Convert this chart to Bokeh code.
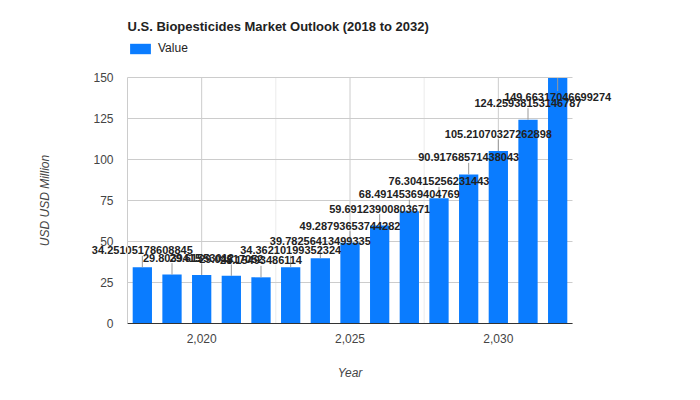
from bokeh.plotting import figure
from bokeh.models import (ColumnDataSource, Label, NumeralTickFormatter, FixedTicker,
                          Range1d, Legend, LegendItem)
from bokeh.embed import file_html
from bokeh.resources import INLINE
from bokeh.core.properties import value

# ---- data ----
years = [2018, 2019, 2020, 2021, 2022, 2023, 2024, 2025, 2026, 2027, 2028, 2029, 2030, 2031, 2032]
market_values = [34.25105178608845, 29.80394150, 29.61553012, 29.04517052, 28.15493486114,
                 34.36210199352324, 39.78256413499335, 49.28793653744282, 59.69123900803671,
                 68.49145369404769, 76.30415256231443, 90.91768571438042, 105.21070327262898,
                 124.25938153146786, 149.66317046699274]
x_ticks = [2020, 2025, 2030]
y_ticks = [0, 25, 50, 75, 100, 125, 150]
title_text = "U.S. Biopesticides Market Outlook (2018 to 2032)"
series_name = "Value"
x_title = "Year"
y_title = "USD USD Million"

# ---- layout / style ----
FONT = "Liberation Sans"
BAR = "#0a7cff"
W, H = 692, 392                 # whole canvas = plot frame
PL, PR, PT, PB = 127, 572, 77, 323   # chart area (pixels) inside the canvas
X_MIN, X_MAX = 2017.5, 2032.5
Y_MIN, Y_MAX = 0, 150

ppx = (PR - PL) / (X_MAX - X_MIN)
ppu = (PB - PT) / (Y_MAX - Y_MIN)
x_start = X_MIN - PL / ppx
x_end = X_MAX + (W - PR) / ppx
y_start = Y_MIN - (H - PB) / ppu
y_end = Y_MAX + PT / ppu

# label placement (annotations with stems, kept inside the chart area)
lab_y, st0, st1 = [], [], []
for v in market_values:
    if v + (17 + 6) / ppu > Y_MAX:
        lab_y.append(v - 19 / ppu)
        st0.append(v)
        st1.append(v - 13 / ppu)
    else:
        lab_y.append(v + 17 / ppu)
        st0.append(v)
        st1.append(v + 11.5 / ppu)

src = ColumnDataSource(dict(x=years, top=market_values, ly=lab_y, s0=st0, s1=st1,
                            txt=[repr(v) for v in market_values]))

p = figure(width=W, height=H, min_border=0,
           x_range=Range1d(x_start, x_end), y_range=Range1d(y_start, y_end),
           output_backend="svg", toolbar_location=None, background_fill_color="white",
           border_fill_color="white")
p.outline_line_color = None
p.xgrid.visible = False
p.ygrid.visible = False

# grid lines (limited to the chart area)
minor_x = [X_MIN] + [(a + b) / 2 for a, b in zip(x_ticks[:-1], x_ticks[1:])] + [X_MAX]
p.segment(x0=minor_x[1:-1], y0=[Y_MIN] * (len(minor_x) - 2), x1=minor_x[1:-1],
          y1=[Y_MAX] * (len(minor_x) - 2), line_color="#ebebeb", line_width=1)
p.segment(x0=x_ticks, y0=[Y_MIN] * len(x_ticks), x1=x_ticks, y1=[Y_MAX] * len(x_ticks),
          line_color="#cccccc", line_width=1)
p.segment(x0=[X_MIN] * len(y_ticks), y0=y_ticks, x1=[X_MAX] * len(y_ticks), y1=y_ticks,
          line_color="#cccccc", line_width=1)

bars = p.vbar(x="x", top="top", width=0.65, source=src, fill_color=BAR, line_color=None)
p.segment(x0="x", y0="s0", x1="x", y1="s1", source=src, line_color="#999999", line_width=1)
p.text(x="x", y="ly", text="txt", source=src, text_align="center", text_baseline="middle",
       text_font=value(FONT), text_font_size="11px", text_font_style="bold", text_color="#222222")

# axes, fixed inside the canvas
p.xaxis.fixed_location = Y_MIN
p.yaxis.fixed_location = X_MIN
p.xaxis.bounds = (X_MIN, X_MAX)
p.yaxis.bounds = (Y_MIN, Y_MAX)
p.xaxis.ticker = FixedTicker(ticks=x_ticks)
p.xaxis.formatter = NumeralTickFormatter(format="0,0")
p.yaxis.ticker = FixedTicker(ticks=y_ticks)
for ax in (p.xaxis, p.yaxis):
    ax.major_tick_line_color = None
    ax.minor_tick_line_color = None
    ax.major_label_text_font = FONT
    ax.major_label_text_font_size = "12px"
    ax.major_label_text_color = "#444444"
    ax.axis_label_text_font = FONT
    ax.axis_label_text_font_size = "12px"
    ax.axis_label_text_font_style = "italic"
    ax.axis_label_text_color = "#444444"
p.xaxis.axis_line_color = "#333333"
p.yaxis.axis_line_color = "#cccccc"
p.xaxis.axis_label = x_title
p.yaxis.axis_label = y_title
p.xaxis.major_label_standoff = 4
p.xaxis.axis_label_standoff = 20
p.yaxis.major_label_standoff = 8
p.yaxis.axis_label_standoff = 38

# title
p.add_layout(Label(x=X_MIN, y=Y_MAX + (PT - 26) / ppu, text=title_text,
                   text_font=FONT, text_font_size="13px", text_font_style="bold",
                   text_color="#222222", text_baseline="middle", text_align="left"))

# legend
leg = Legend(items=[LegendItem(label=series_name, renderers=[bars])],
             location=(PL, H - 55), orientation="horizontal",
             padding=0, margin=0, border_line_color=None, background_fill_alpha=0,
             glyph_width=26, glyph_height=13, label_height=13, label_standoff=5,
             label_text_font=FONT, label_text_font_size="12px", label_text_color="#222222")
p.add_layout(leg, "center")

open("out.html", "w").write(file_html(p, INLINE))
